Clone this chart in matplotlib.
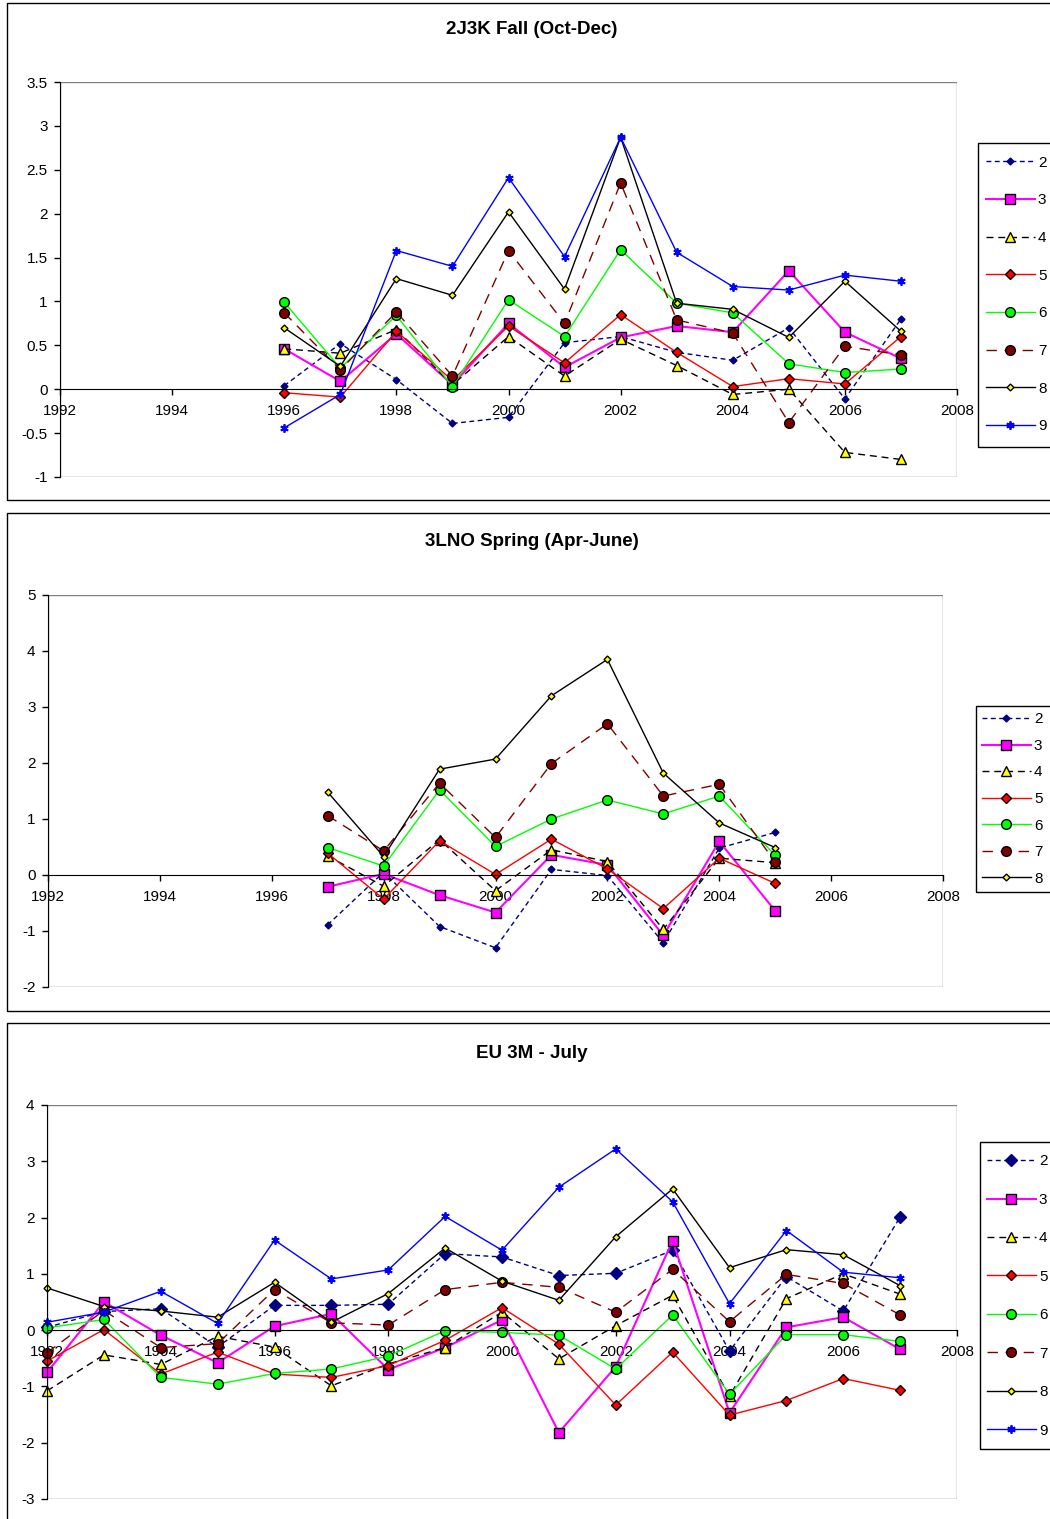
"""Recreate the three-panel Excel-style line charts (2J3K, 3LNO, EU 3M)."""

import matplotlib

matplotlib.use("Agg")
import matplotlib.pyplot as plt
from matplotlib.patches import Rectangle
from matplotlib.ticker import FormatStrFormatter

plt.rcParams["font.family"] = ["Liberation Sans", "DejaVu Sans"]

W, H = 1050, 1519

# ---- data -------------------------------------------------------------
YEARS_FALL = list(range(1996, 2008))
FALL = {
    "2": [0.04, 0.52, 0.11, -0.39, -0.32, 0.53, 0.60, 0.42, 0.33, 0.70, -0.11, 0.80],
    "3": [0.46, 0.09, 0.63, 0.05, 0.75, 0.25, 0.59, 0.72, 0.65, 1.35, 0.65, 0.35],
    "4": [0.46, 0.41, 0.68, 0.05, 0.60, 0.15, 0.57, 0.27, -0.06, 0.00, -0.72, -0.80],
    "5": [-0.04, -0.09, 0.66, 0.10, 0.72, 0.30, 0.85, 0.42, 0.03, 0.12, 0.06, 0.60],
    "6": [0.99, 0.24, 0.84, 0.03, 1.02, 0.60, 1.59, 0.98, 0.87, 0.29, 0.19, 0.23],
    "7": [0.87, 0.22, 0.88, 0.15, 1.58, 0.75, 2.35, 0.79, 0.64, -0.38, 0.49, 0.39],
    "8": [0.70, 0.26, 1.26, 1.07, 2.02, 1.14, 2.87, 0.98, 0.91, 0.59, 1.23, 0.66],
    "9": [-0.44, -0.06, 1.58, 1.40, 2.41, 1.51, 2.87, 1.56, 1.17, 1.13, 1.30, 1.23],
}

YEARS_SPRING = list(range(1997, 2006))
SPRING = {
    "2": [-0.89, 0.05, -0.92, -1.30, 0.10, -0.01, -1.21, 0.48, 0.76],
    "3": [-0.21, 0.02, -0.36, -0.67, 0.36, 0.18, -1.08, 0.60, -0.64],
    "4": [0.34, -0.20, 0.63, -0.28, 0.45, 0.24, -0.97, 0.30, 0.22],
    "5": [0.39, -0.43, 0.61, 0.01, 0.64, 0.11, -0.60, 0.30, -0.15],
    "6": [0.49, 0.16, 1.52, 0.51, 1.00, 1.34, 1.09, 1.41, 0.35],
    "7": [1.06, 0.43, 1.64, 0.67, 1.99, 2.70, 1.41, 1.62, 0.23],
    "8": [1.48, 0.33, 1.89, 2.07, 3.20, 3.85, 1.82, 0.93, 0.49],
}

YEARS_JULY = list(range(1992, 2008))
JULY = {
    "2": [0.05, 0.33, 0.38, -0.30, 0.44, 0.44, 0.46, 1.36, 1.30, 0.97, 1.01, 1.42, -0.37, 0.95, 0.34, 2.01],
    "3": [-0.75, 0.50, -0.09, -0.58, 0.07, 0.29, -0.70, -0.31, 0.18, -1.82, -0.65, 1.59, -1.47, 0.05, 0.23, -0.34],
    "4": [-1.08, -0.44, -0.61, -0.11, -0.30, -0.99, -0.60, -0.31, 0.32, -0.51, 0.08, 0.62, -1.17, 0.56, 1.00, 0.64],
    "5": [-0.55, 0.01, -0.78, -0.39, -0.78, -0.84, -0.63, -0.18, 0.40, -0.25, -1.33, -0.39, -1.51, -1.25, -0.86, -1.07],
    "6": [0.04, 0.19, -0.84, -0.96, -0.77, -0.69, -0.46, -0.01, -0.04, -0.09, -0.69, 0.27, -1.14, -0.08, -0.08, -0.20],
    "7": [-0.40, 0.35, -0.31, -0.24, 0.72, 0.13, 0.09, 0.72, 0.85, 0.76, 0.32, 1.08, 0.15, 0.99, 0.83, 0.27],
    "8": [0.75, 0.42, 0.34, 0.23, 0.85, 0.14, 0.65, 1.46, 0.87, 0.53, 1.66, 2.51, 1.11, 1.43, 1.34, 0.79],
    "9": [0.14, 0.32, 0.69, 0.12, 1.60, 0.91, 1.07, 2.02, 1.42, 2.54, 3.22, 2.28, 0.47, 1.77, 1.03, 0.93],
}

X_TICKS = list(range(1992, 2009, 2))

# ---- series styles ----------------------------------------------------
STYLES = {
    "2": dict(color="#000080", ls=(0, (3.5, 2.5)), lw=1, marker="D", mfc="#000080", mec="#000080", ms=3.5),
    "3": dict(color="#FF00FF", ls="-", lw=1.5, marker="s", mfc="#FF00FF", mec="black", ms=6.5),
    "4": dict(color="black", ls=(0, (5, 3.5)), lw=1, marker="^", mfc="#FFFF00", mec="black", ms=7),
    "5": dict(color="#FF0000", ls="-", lw=1, marker="D", mfc="#FF0000", mec="black", ms=5),
    "6": dict(color="#00FF00", ls="-", lw=1, marker="o", mfc="#00FF00", mec="black", ms=7),
    "7": dict(color="#800000", ls=(0, (7.5, 5.5)), lw=1, marker="o", mfc="#800000", mec="black", ms=7),
    "8": dict(color="black", ls="-", lw=1, marker="D", mfc="#FFFF00", mec="black", ms=3.5),
    "9": dict(color="#0000FF", ls="-", lw=1, marker=(6, 2, 0), mfc="#0000FF", mec="#0000FF", ms=6, mew=1.3),
}


def px_axes(fig, left, top, right, bottom):
    """Add axes placed by pixel edges of the figure."""
    return fig.add_axes([left / W, 1 - bottom / H, (right - left) / W, (bottom - top) / H])


def px_box(fig, left, top, right, bottom):
    """Draw a black rectangle given in figure pixels."""
    fig.patches.append(
        Rectangle((left / W, 1 - bottom / H), (right - left) / W, (bottom - top) / H,
                  transform=fig.transFigure, fill=False, edgecolor="black", lw=1)
    )


def draw_panel(fig, years, data, title, title_y, area, ylim, ystep,
               legend_box, legend_x, legend_mid, labelspacing, big_navy=False):
    """Draw one panel: plot area, series, axes and legend."""
    left, top, right, bottom = area
    ax = px_axes(fig, left, top, right, bottom)

    handles = []
    for name, values in data.items():
        st = dict(STYLES[name])
        if big_navy and name == "2":
            st["ms"] = 6.5
        (line,) = ax.plot(years, values, label=name, clip_on=False, **st)
        handles.append(line)

    ax.set_xlim(1992, 2008)
    ax.set_ylim(*ylim)
    ax.set_xticks(X_TICKS)
    ticks = []
    v = ylim[0]
    while v <= ylim[1] + 1e-9:
        ticks.append(round(v, 2))
        v += ystep
    ax.set_yticks(ticks)
    ax.yaxis.set_major_formatter(FormatStrFormatter("%g"))

    for side in ("top", "right"):
        ax.spines[side].set_visible(False)
    ax.spines["bottom"].set_position(("data", 0))
    ax.spines["bottom"].set_color("black")
    ax.spines["left"].set_color("black")
    ax.add_patch(Rectangle((0, 0), 1, 1, transform=ax.transAxes, fill=False,
                           edgecolor="#808080", lw=1, zorder=0.5))
    ax.tick_params(axis="both", direction="out", length=4, width=1,
                   labelsize=11, colors="black")
    ax.tick_params(axis="x", pad=6.5)
    ax.tick_params(axis="y", pad=5)

    fig.text(532 / W, 1 - title_y / H, title, ha="center", va="center",
             fontweight="bold", fontsize=13.5)

    # legend: frame drawn separately, entries centred inside it
    px_box(fig, *legend_box)
    ax.legend(handles=handles, loc="center left",
              bbox_to_anchor=(legend_x / W, 1 - legend_mid / H),
              bbox_transform=fig.transFigure, frameon=False, borderaxespad=0,
              borderpad=0, labelspacing=labelspacing,
              handlelength=3.2, handletextpad=0.2, numpoints=1, fontsize=11)
    return ax


fig = plt.figure(figsize=(W / 100, H / 100), dpi=100)

px_box(fig, 7, 3, 1070, 500)
px_box(fig, 7, 513, 1070, 1011)
px_box(fig, 7, 1023, 1070, 1530)

draw_panel(fig, YEARS_FALL, FALL, "2J3K Fall (Oct-Dec)", 30,
           (60, 82, 957, 477), (-1, 3.5), 0.5,
           (978, 143, 1070, 447), 986, 294.5, 1.55)
draw_panel(fig, YEARS_SPRING, SPRING, "3LNO Spring (Apr-June)", 542,
           (48, 595, 943, 987), (-2, 5), 1,
           (976, 706, 1070, 892), 982, 799, 0.82)
draw_panel(fig, YEARS_JULY, JULY, "EU 3M - July", 1054,
           (47, 1105, 957, 1499), (-3, 4), 1,
           (980, 1142, 1070, 1449), 987, 1296, 1.60, big_navy=True)

fig.savefig("out.png", dpi=100)
